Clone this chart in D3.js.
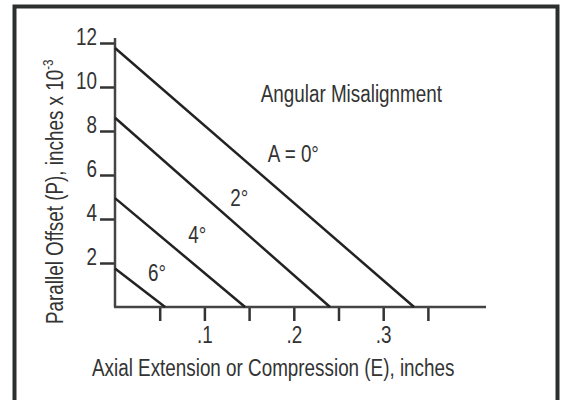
<!DOCTYPE html>
<html lang="en">
<head>
    <meta charset="UTF-8">
    <title>Angular Misalignment</title>
    <script src="https://d3js.org/d3.v7.min.js"></script>
    <style>
        body { margin: 0; background: #fff; }
        svg text {
            font-family: "Liberation Sans", Arial, sans-serif;
            fill: #333;
        }
    </style>
</head>
<body>
    <script>
        // Data
        const angleLabels = ["A = 0°", "2°", "4°", "6°"];
        const offsetAtZero = [11.77, 8.6, 4.95, 1.75];        // P where E = 0 (x 10^-3 in)
        const extensionAtZero = [0.3345, 0.2405, 0.1455, 0.056]; // E where P = 0 (in)
        const labelE = [0.171, 0.129, 0.082, 0.037];          // label anchor, E
        const labelP = [6.6, 4.6, 2.9, 1.2];                  // label anchor, P
        const yTicks = [2, 4, 6, 8, 10, 12];
        const xTicks = [0.05, 0.1, 0.15, 0.2, 0.25, 0.3, 0.35];
        const xTickLabels = [".1", ".2", ".3"];
        const xLabelValues = [0.1, 0.2, 0.3];

        const width = 564;
        const height = 400;
        const squeeze = 0.82; // the original uses a narrow Helvetica

        const svg = d3.select("body")
            .append("svg")
            .attr("width", width)
            .attr("height", height);

        // turn x/y into a transform so the glyphs can be narrowed
        function narrow(sel) {
            sel.each(function () {
                const t = d3.select(this);
                const tx = +t.attr("x") || 0;
                const ty = +t.attr("y") || 0;
                t.attr("transform", `translate(${tx},${ty}) scale(${squeeze},1)`)
                    .attr("x", 0)
                    .attr("y", 0);
            });
        }

        // Frame
        svg.append("rect")
            .attr("x", 14.5)
            .attr("y", 6.5)
            .attr("width", 543)
            .attr("height", 430)
            .attr("fill", "#fff")
            .attr("stroke", "#2b302f")
            .attr("stroke-width", 4);

        const x = d3.scaleLinear().domain([0, 0.415]).range([115, 486]);
        const y = d3.scaleLinear().domain([0, 12]).range([307, 43]);

        // Y axis
        const yAxis = svg.append("g")
            .attr("transform", `translate(${x(0)},0)`)
            .call(d3.axisLeft(y).tickValues(yTicks).tickSize(15).tickPadding(4));
        yAxis.select(".domain").remove();
        yAxis.selectAll(".tick line").attr("stroke", "#333").attr("stroke-width", 2.5);
        yAxis.selectAll(".tick text")
            .attr("font-size", 23)
            .attr("dy", "0.05em")
            .attr("x", -18)
            .call(narrow);

        svg.append("line")
            .attr("x1", x(0)).attr("x2", x(0))
            .attr("y1", y(0)).attr("y2", y(12.23))
            .attr("stroke", "#444")
            .attr("stroke-width", 2.5);

        // X axis
        const xAxis = svg.append("g")
            .attr("transform", `translate(0,${y(0)})`)
            .call(d3.axisBottom(x)
                .tickValues(xTicks)
                .tickSize(14)
                .tickPadding(6)
                .tickFormat(d => {
                    const i = xLabelValues.findIndex(v => Math.abs(v - d) < 1e-9);
                    return i >= 0 ? xTickLabels[i] : "";
                }));
        xAxis.select(".domain").remove();
        xAxis.selectAll(".tick line").attr("stroke", "#333").attr("stroke-width", 2.5);
        xAxis.selectAll(".tick text").attr("font-size", 23).call(narrow);

        svg.append("line")
            .attr("x1", x(0) - 1).attr("x2", x(0.415))
            .attr("y1", y(0)).attr("y2", y(0))
            .attr("stroke", "#444")
            .attr("stroke-width", 2.5);

        // Misalignment lines
        const lines = angleLabels.map((label, i) => ({
            label,
            p: offsetAtZero[i],
            e: extensionAtZero[i],
            le: labelE[i],
            lp: labelP[i]
        }));

        svg.selectAll(".angle-line")
            .data(lines)
            .enter()
            .append("line")
            .attr("class", "angle-line")
            .attr("x1", x(0))
            .attr("y1", d => y(d.p))
            .attr("x2", d => x(d.e))
            .attr("y2", y(0))
            .attr("stroke", "#222")
            .attr("stroke-width", 2.5);

        svg.selectAll(".angle-label")
            .data(lines)
            .enter()
            .append("text")
            .attr("class", "angle-label")
            .attr("x", d => x(d.le))
            .attr("y", d => y(d.lp))
            .attr("font-size", 23)
            .text(d => d.label)
            .call(narrow);

        // Titles
        svg.append("text")
            .attr("x", x(0.163))
            .attr("y", y(9.32))
            .attr("font-size", 23)
            .text("Angular Misalignment")
            .call(narrow);

        svg.append("text")
            .attr("x", 92)
            .attr("y", 376)
            .attr("font-size", 23)
            .text("Axial Extension or Compression (E), inches")
            .call(narrow);

        const yTitle = svg.append("text")
            .attr("transform", `translate(63,324) rotate(-90) scale(${squeeze},1)`)
            .attr("font-size", 23);
        yTitle.append("tspan").text("Parallel Offset (P), inches x 10");
        yTitle.append("tspan")
            .attr("font-size", 14)
            .attr("dy", -10)
            .text("-3");
    </script>
</body>
</html>
